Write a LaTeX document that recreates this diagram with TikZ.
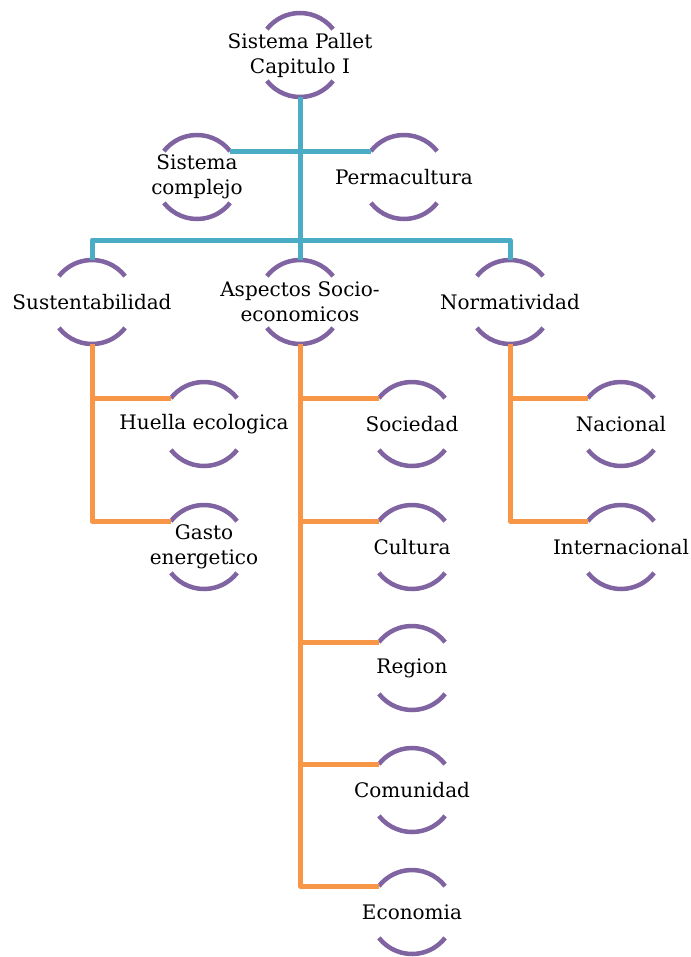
\documentclass[tikz,border=0pt]{standalone}
\usepackage{fontspec}
\setmainfont{DejaVu Serif}
\definecolor{ringc}{HTML}{8064A2}
\definecolor{bluec}{HTML}{4BACC6}
\definecolor{orangec}{HTML}{F79646}
\newcommand\ringnode[4]{%
  \node[ringn] (#1) at (#2,#3) {};
  \node[txt] (#1t) at (#1.center) {#4};
  \draw[arcs] (#1.38) arc[start angle=38,end angle=142,radius=42bp];
  \draw[arcs] (#1.218) arc[start angle=218,end angle=322,radius=42bp];
}
\begin{document}
\begin{tikzpicture}[x=1bp,y=1bp,
  ringn/.style={circle,minimum size=84bp,inner sep=0pt,outer sep=0pt},
  txt/.style={font=\fontsize{20bp}{25bp}\selectfont,align=center,inner sep=0pt,text=black},
  arcs/.style={draw=ringc,line width=4.5bp},
  bl/.style={draw=bluec,line width=5bp,line join=round},
  orl/.style={draw=orangec,line width=5bp,line join=round}]
\useasboundingbox (0,0) rectangle (691,-957);
\ringnode{top}{300}{-55}{Sistema Pallet\\Capitulo I}
\ringnode{sc}{197}{-177}{Sistema\\complejo}
\ringnode{perm}{404}{-177}{Permacultura}
\ringnode{sus}{92}{-302}{Sustentabilidad}
\ringnode{asp}{300}{-302}{Aspectos Socio-\\economicos}
\ringnode{norm}{510}{-302}{Normatividad}
\ringnode{hue}{204}{-424}{Huella ecologica}
\ringnode{gas}{204}{-547}{Gasto\\energetico}
\ringnode{soc}{412}{-424}{Sociedad}
\ringnode{cul}{412}{-547}{Cultura}
\ringnode{reg}{412}{-668}{Region}
\ringnode{com}{412}{-790}{Comunidad}
\ringnode{eco}{412}{-912}{Economia}
\ringnode{nac}{621}{-424}{Nacional}
\ringnode{int}{621}{-547}{Internacional}
\coordinate (bar) at (300,-240);
% blue connectors
\draw[bl] (top.south) -- (asp.north);
\draw[bl] (sc.38) -- (perm.142);
\draw[bl] (sus.north) -- (sus.north |- bar) -- (norm.north |- bar) -- (norm.north);
% orange connectors
\draw[orl] (sus.south) |- (gas.142);
\draw[orl] (sus.south) |- (hue.142);
\draw[orl] (asp.south) |- (eco.142);
\draw[orl] (asp.south) |- (soc.142);
\draw[orl] (asp.south) |- (cul.142);
\draw[orl] (asp.south) |- (reg.142);
\draw[orl] (asp.south) |- (com.142);
\draw[orl] (norm.south) |- (int.142);
\draw[orl] (norm.south) |- (nac.142);
\end{tikzpicture}
\end{document}
